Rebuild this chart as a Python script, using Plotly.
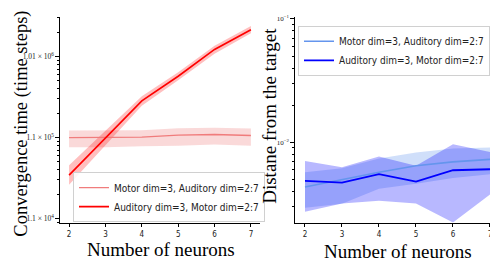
import plotly.graph_objects as go

# ---------------- data ----------------
neurons = [2, 3, 4, 5, 6, 7]

# Left panel: convergence time (time steps)
conv_motor_mean = [1.0e5, 1.0e5, 1.01e5, 1.07e5, 1.09e5, 1.06e5]
conv_motor_upper = [1.22e5, 1.22e5, 1.23e5, 1.30e5, 1.32e5, 1.29e5]
conv_motor_lower = [7.6e4, 7.6e4, 7.8e4, 7.9e4, 8.2e4, 7.9e4]

conv_aud_mean = [3.44e4, 9.9e4, 2.83e5, 5.7e5, 1.22e6, 2.14e6]
conv_aud_upper = [4.54e4, 1.20e5, 3.24e5, 6.4e5, 1.36e6, 2.37e6]
conv_aud_lower = [2.61e4, 8.1e4, 2.46e5, 5.08e5, 1.08e6, 1.93e6]

# Right panel: distance from the target
dist_motor_mean = [4.34e-3, 4.97e-3, 5.73e-3, 6.46e-3, 6.95e-3, 7.27e-3]
dist_motor_upper = [5.73e-3, 6.16e-3, 7.41e-3, 8.27e-3, 8.90e-3, 9.07e-3]
dist_motor_lower = [2.95e-3, 3.18e-3, 4.21e-3, 4.61e-3, 5.13e-3, 5.52e-3]

dist_aud_mean = [4.88e-3, 4.72e-3, 5.52e-3, 4.81e-3, 5.94e-3, 6.05e-3]
dist_aud_upper = [7.05e-3, 6.28e-3, 7.69e-3, 6.46e-3, 9.64e-3, 8.36e-3]
dist_aud_lower = [2.74e-3, 3.19e-3, 3.37e-3, 3.19e-3, 2.24e-3, 3.77e-3]

series_names = ["Motor dim=3, Auditory dim=2:7", "Auditory dim=3, Motor dim=2:7"]

left_tickvals = [1e4, 1e5, 1e6]
left_ticktext = ["1.1 × 10<sup>4</sup>", "1.1 × 10<sup>5</sup>", "1.01 × 10<sup>6</sup>"]
left_minor = [m * 10 ** e for e in (3, 4, 5, 6) for m in range(2, 10)]

right_tickvals = [1e-2, 1e-1]
right_ticktext = ["10<sup>−2</sup>", "10<sup>−1</sup>"]
right_minor = [m * 10 ** e for e in (-3, -2) for m in range(2, 10)]

# ---------------- styling ----------------
W, H = 498, 264
OFF = 8  # page body margin offset


def px(x):
    return (x - OFF) / W


def py(y):
    return (H - (y - OFF)) / H


SERIF = "Liberation Serif, Times New Roman, serif"
COND = "DejaVu Sans Condensed, Liberation Sans Narrow, DejaVu Sans, sans-serif"

fig = go.Figure()


def band(x, lo, hi, color, xa, ya):
    fig.add_trace(go.Scatter(
        x=list(x) + list(x)[::-1], y=list(hi) + list(lo)[::-1],
        fill="toself", fillcolor=color, line=dict(width=0),
        mode="lines", hoverinfo="skip", showlegend=False,
        xaxis=xa, yaxis=ya))


# Left panel
band(neurons, conv_motor_lower, conv_motor_upper, "rgba(240,128,128,0.30)", "x", "y")
band(neurons, conv_aud_lower, conv_aud_upper, "rgba(255,0,0,0.25)", "x", "y")
fig.add_trace(go.Scatter(x=neurons, y=conv_motor_mean, mode="lines",
                         line=dict(color="#f07c7c", width=1.3),
                         name=series_names[0], legend="legend", xaxis="x", yaxis="y"))
fig.add_trace(go.Scatter(x=neurons, y=conv_aud_mean, mode="lines",
                         line=dict(color="#ff0000", width=1.6),
                         name=series_names[1], legend="legend", xaxis="x", yaxis="y"))

# Right panel
band(neurons, dist_motor_lower, dist_motor_upper, "rgba(100,149,237,0.30)", "x2", "y2")
band(neurons, dist_aud_lower, dist_aud_upper, "rgba(0,0,255,0.28)", "x2", "y2")
fig.add_trace(go.Scatter(x=neurons, y=dist_motor_mean, mode="lines",
                         line=dict(color="#6495ed", width=1.6),
                         name=series_names[0], legend="legend2", xaxis="x2", yaxis="y2"))
fig.add_trace(go.Scatter(x=neurons, y=dist_aud_mean, mode="lines",
                         line=dict(color="#0000ff", width=1.8),
                         name=series_names[1], legend="legend2", xaxis="x2", yaxis="y2"))

axis_common = dict(showline=True, linecolor="black", linewidth=1.2, mirror=False,
                   showgrid=False, zeroline=False, ticks="outside", ticklen=3.5,
                   tickwidth=1, tickcolor="black")

fig.update_layout(
    width=W, height=H,
    margin=dict(l=0, r=0, t=0, b=0),
    paper_bgcolor="white", plot_bgcolor="white",
    xaxis=dict(domain=[px(60), px(260)], range=[1.75, 7.25], anchor="y",
               tickvals=neurons, tickfont=dict(family=COND, size=8, color="#222"),
               **axis_common),
    yaxis=dict(domain=[py(223), py(15)], type="log", range=[3.951, 6.488], anchor="x",
               tickvals=left_tickvals, ticktext=left_ticktext,
               tickfont=dict(family=SERIF, size=7.5, color="#222"),
               minor=dict(tickvals=left_minor, ticks="outside", ticklen=2,
                          tickcolor="black", showgrid=False),
               **axis_common),
    xaxis2=dict(domain=[px(295), 1.0], range=[1.73, 1.73 + (W + OFF - 295) / 37.0],
                anchor="y2",
                tickvals=neurons, tickfont=dict(family=COND, size=8, color="#222"),
                **axis_common),
    yaxis2=dict(domain=[py(223), py(15)], type="log", range=[-2.65, -0.984], anchor="x2",
                tickvals=right_tickvals, ticktext=right_ticktext,
                tickfont=dict(family=SERIF, size=7, color="#222"),
                minor=dict(tickvals=right_minor, ticks="outside", ticklen=2,
                           tickcolor="black", showgrid=False),
                **axis_common),
    legend=dict(x=px(73), y=py(172), xanchor="left", yanchor="top",
                bgcolor="rgba(255,255,255,0.85)", bordercolor="#d0d0d0", borderwidth=1,
                font=dict(family=COND, size=10, color="#222"), itemwidth=30,
                tracegroupgap=0),
    legend2=dict(x=px(298), y=py(24), xanchor="left", yanchor="top",
                 bgcolor="rgba(255,255,255,0.85)", bordercolor="#d0d0d0", borderwidth=1,
                 font=dict(family=COND, size=10, color="#222"), itemwidth=30,
                 tracegroupgap=0),
    annotations=[
        dict(text="Convergence time (time steps)", x=px(22), y=py(123),
             xref="paper", yref="paper", textangle=-90, showarrow=False,
             font=dict(family=SERIF, size=18.5, color="black"),
             xanchor="center", yanchor="middle"),
        dict(text="Number of neurons", x=px(161), y=py(250),
             xref="paper", yref="paper", showarrow=False,
             font=dict(family=SERIF, size=19, color="black"),
             xanchor="center", yanchor="middle"),
        dict(text="Distane from the target", x=px(270), y=py(115),
             xref="paper", yref="paper", textangle=-90, showarrow=False,
             font=dict(family=SERIF, size=19, color="black"),
             xanchor="center", yanchor="middle"),
        dict(text="Number of neurons", x=px(398), y=py(252),
             xref="paper", yref="paper", showarrow=False,
             font=dict(family=SERIF, size=19, color="black"),
             xanchor="center", yanchor="middle"),
    ],
    showlegend=True,
)

fig.write_html("out.html")
